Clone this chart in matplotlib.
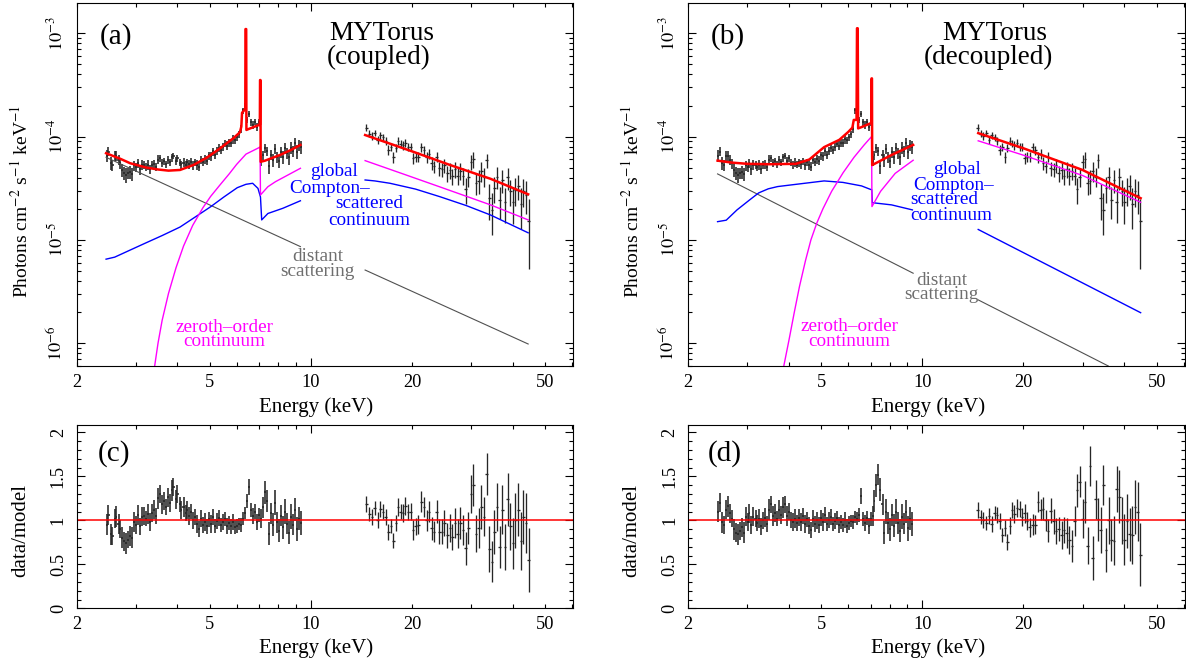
import numpy as np
import matplotlib.pyplot as plt
from matplotlib.ticker import FixedLocator, FuncFormatter, LogLocator, MultipleLocator, NullFormatter

plt.rcParams['font.family'] = ['Liberation Serif', 'DejaVu Serif']
plt.rcParams['mathtext.fontset'] = 'stix'

SCALE = 1e-5  # flux values below are in units of 1e-5 photons cm^-2 s^-1 keV^-1

# ============================================================================
#  Observed spectrum (same data in both fits)
# ============================================================================

energy_soft = [
    2.46, 2.49, 2.53, 2.56, 2.60, 2.63, 2.67, 2.70, 2.74, 2.78,
    2.81, 2.85, 2.89, 2.93, 2.97, 3.01, 3.05, 3.09, 3.13, 3.18,
    3.22, 3.26, 3.31, 3.35, 3.40, 3.45, 3.49, 3.54, 3.59, 3.64,
    3.69, 3.74, 3.79, 3.84, 3.89, 3.95, 4.00, 4.06, 4.11, 4.17,
    4.23, 4.28, 4.34, 4.40, 4.46, 4.52, 4.58, 4.65, 4.71, 4.78,
    4.84, 4.91, 4.98, 5.05, 5.12, 5.19, 5.26, 5.33, 5.40, 5.48,
    5.55, 5.63, 5.71, 5.78, 5.86, 5.94, 6.03, 6.11, 6.19, 6.28,
    6.36, 6.45, 6.54, 6.63, 6.72, 6.81, 6.91, 7.00, 7.10, 7.19,
    7.29, 7.39, 7.49, 7.60, 7.70, 7.81, 7.91, 8.02, 8.13, 8.25,
    8.36, 8.48, 8.59, 8.71, 8.83, 8.96, 9.08, 9.21, 9.33,
]
flux_soft = [
    6.51, 7.16, 5.54, 5.33, 6.53, 6.55, 5.95, 5.49, 4.76, 4.45,
    4.26, 4.41, 4.53, 4.36, 5.27, 5.04, 5.54, 4.81, 5.32, 5.31,
    5.12, 5.33, 4.84, 5.29, 5.44, 5.06, 5.99, 6.19, 5.58, 5.75,
    5.39, 5.90, 5.62, 6.28, 6.49, 5.85, 6.15, 5.61, 5.38, 5.61,
    5.36, 5.63, 5.38, 5.72, 5.30, 5.64, 5.33, 5.13, 5.95, 5.68,
    6.00, 5.86, 6.57, 6.43, 7.18, 6.67, 7.28, 7.83, 7.46, 7.94,
    8.57, 8.18, 8.73, 8.65, 9.41, 9.20, 9.87, 10.5, 11.9, 17.9,
    20.0, 14.4, 16.6, 13.7, 13.0, 13.9, 12.5, 13.7, 5.81, 6.61,
    7.72, 7.26, 5.14, 6.64, 5.94, 7.62, 6.32, 5.76, 7.04, 6.30,
    7.70, 6.86, 6.28, 7.75, 7.22, 8.74, 7.16, 8.26, 8.00,
]
# 1-sigma error in units of the ratio
err_soft = [
    0.12, 0.11, 0.12, 0.10, 0.11, 0.12, 0.11, 0.10, 0.12, 0.11,
    0.12, 0.10, 0.11, 0.12, 0.11, 0.10, 0.11, 0.10, 0.11, 0.10,
    0.09, 0.11, 0.10, 0.10, 0.11, 0.09, 0.12, 0.10, 0.11, 0.10,
    0.09, 0.11, 0.10, 0.12, 0.10, 0.11, 0.10, 0.09, 0.10, 0.11,
    0.09, 0.10, 0.10, 0.09, 0.10, 0.09, 0.10, 0.09, 0.10, 0.09,
    0.10, 0.09, 0.09, 0.10, 0.09, 0.08, 0.09, 0.09, 0.08, 0.09,
    0.08, 0.09, 0.08, 0.08, 0.09, 0.08, 0.08, 0.07, 0.08, 0.07,
    0.07, 0.08, 0.09, 0.08, 0.09, 0.08, 0.09, 0.08, 0.11, 0.12,
    0.13, 0.12, 0.13, 0.12, 0.13, 0.14, 0.12, 0.13, 0.12, 0.13,
    0.14, 0.12, 0.13, 0.14, 0.12, 0.13, 0.14, 0.13, 0.14,
]
ratio_c_soft = [
    0.95, 1.06, 0.84, 0.82, 1.02, 1.04, 0.96, 0.90, 0.80, 0.76,
    0.74, 0.78, 0.82, 0.80, 0.98, 0.95, 1.06, 0.93, 1.04, 1.05,
    1.02, 1.07, 0.98, 1.08, 1.12, 1.05, 1.25, 1.30, 1.18, 1.22,
    1.15, 1.26, 1.20, 1.34, 1.38, 1.24, 1.30, 1.18, 1.12, 1.15,
    1.08, 1.12, 1.05, 1.10, 1.00, 1.04, 0.96, 0.90, 1.02, 0.95,
    0.98, 0.93, 1.01, 0.96, 1.04, 0.94, 0.99, 1.03, 0.95, 0.98,
    1.02, 0.94, 0.97, 0.93, 0.98, 0.92, 0.94, 0.96, 0.95, 1.02,
    1.08, 1.22, 1.38, 1.12, 1.05, 1.10, 0.98, 1.06, 1.02, 1.15,
    1.32, 1.22, 0.85, 1.08, 0.95, 1.20, 0.98, 0.88, 1.05, 0.92,
    1.10, 0.96, 0.86, 1.04, 0.95, 1.12, 0.90, 1.02, 0.97,
]
ratio_d_soft = [
    1.10, 1.20, 0.98, 0.95, 1.12, 1.16, 1.08, 1.02, 0.90, 0.86,
    0.84, 0.88, 0.92, 0.86, 1.04, 0.98, 1.08, 0.95, 1.04, 1.02,
    0.97, 1.02, 0.93, 1.00, 1.03, 0.96, 1.12, 1.18, 1.05, 1.08,
    1.02, 1.12, 1.06, 1.15, 1.18, 1.05, 1.10, 1.00, 0.98, 1.02,
    0.97, 1.03, 0.98, 1.05, 0.96, 1.01, 0.94, 0.89, 1.02, 0.96,
    1.00, 0.95, 1.03, 0.98, 1.06, 0.96, 1.00, 1.04, 0.96, 0.99,
    1.03, 0.95, 0.98, 0.95, 1.00, 0.94, 0.97, 0.99, 0.98, 1.04,
    1.02, 1.06, 1.28, 1.02, 0.97, 1.03, 0.94, 1.02, 1.05, 1.22,
    1.40, 1.52, 1.35, 1.18, 0.86, 1.10, 0.97, 0.90, 1.06, 0.94,
    1.10, 0.97, 0.88, 1.04, 0.96, 1.10, 0.91, 1.02, 0.96,
]

energy_hard = [
    14.6, 14.9, 15.2, 15.5, 15.8, 16.1, 16.4, 16.7, 17.0, 17.3,
    17.6, 17.9, 18.2, 18.5, 18.8, 19.1, 19.5, 19.8, 20.2, 20.5,
    20.9, 21.3, 21.7, 22.1, 22.5, 22.9, 23.3, 23.7, 24.1, 24.6,
    25.0, 25.5, 26.0, 26.4, 26.9, 27.4, 27.9, 28.4, 28.9, 29.4,
    30.0, 30.5, 31.1, 31.6, 32.2, 32.8, 33.4, 34.0, 34.6, 35.2,
    35.9, 36.5, 37.2, 37.9, 38.6, 39.3, 40.0, 40.7, 41.5, 42.2,
    43.0, 43.8, 44.6,
]
flux_hard = [
    12.2, 10.7, 10.2, 10.9, 9.35, 10.3, 9.85, 9.11, 7.46, 7.90,
    6.34, 7.83, 9.10, 8.54, 8.23, 8.68, 7.96, 7.89, 6.23, 6.40,
    6.38, 7.96, 7.39, 6.30, 6.79, 5.50, 5.15, 6.38, 4.94, 4.82,
    5.28, 4.41, 4.72, 4.13, 4.84, 4.15, 4.64, 4.17, 3.11, 4.09,
    5.69, 6.02, 3.57, 3.75, 4.63, 4.10, 5.91, 2.53, 1.96, 3.16,
    4.08, 2.44, 3.81, 2.33, 4.04, 2.97, 2.32, 3.06, 3.35, 2.23,
    2.98, 2.73, 1.51,
]
err_hard = [
    0.09, 0.08, 0.09, 0.08, 0.09, 0.09, 0.08, 0.09, 0.09, 0.08,
    0.09, 0.09, 0.10, 0.09, 0.10, 0.10, 0.09, 0.10, 0.11, 0.10,
    0.11, 0.12, 0.11, 0.12, 0.12, 0.13, 0.12, 0.13, 0.14, 0.14,
    0.15, 0.14, 0.16, 0.15, 0.17, 0.16, 0.18, 0.17, 0.19, 0.18,
    0.22, 0.24, 0.21, 0.23, 0.25, 0.22, 0.24, 0.26, 0.23, 0.25,
    0.27, 0.24, 0.28, 0.26, 0.30, 0.27, 0.29, 0.31, 0.30, 0.33,
    0.31, 0.34, 0.36,
]
ratio_c_hard = [
    1.19, 1.07, 1.04, 1.14, 1.00, 1.13, 1.10, 1.04, 0.87, 0.94,
    0.77, 0.97, 1.15, 1.10, 1.08, 1.16, 1.09, 1.10, 0.89, 0.93,
    0.95, 1.21, 1.15, 1.00, 1.10, 0.91, 0.87, 1.10, 0.87, 0.87,
    0.97, 0.83, 0.91, 0.81, 0.97, 0.85, 0.97, 0.89, 0.68, 0.91,
    1.30, 1.40, 0.85, 0.91, 1.15, 1.04, 1.53, 0.67, 0.53, 0.87,
    1.15, 0.70, 1.12, 0.70, 1.24, 0.93, 0.74, 1.00, 1.12, 0.76,
    1.04, 0.97, 0.55,
]
ratio_d_hard = [
    1.12, 1.04, 1.00, 0.97, 1.05, 0.96, 1.08, 1.06, 0.99, 0.83,
    0.91, 0.75, 0.94, 1.12, 1.07, 1.14, 1.13, 1.04, 1.08, 0.99,
    0.92, 0.95, 0.95, 1.21, 1.12, 1.13, 1.00, 0.88, 1.11, 0.99,
    0.88, 0.90, 0.83, 0.89, 0.86, 0.78, 0.71, 0.99, 1.34, 1.44,
    1.02, 1.21, 0.71, 1.62, 0.57, 1.24, 1.01, 0.89, 1.40, 0.66,
    1.00, 0.78, 0.77, 1.36, 1.27, 1.00, 0.78, 0.99, 0.84, 0.83,
    1.15, 1.10, 0.61,
]

# ============================================================================
#  Model components, panel (a): MYTorus coupled
# ============================================================================

a_total_soft_e = [2.45, 2.70, 2.89, 3.24, 3.50, 3.76, 4.07, 4.46, 4.89, 5.36, 5.87, 6.14,
                  6.20, 6.23, 6.37, 6.38, 6.41, 6.42, 6.50, 6.97, 7.04, 7.05, 7.07, 7.08,
                  7.30, 7.60, 8.09, 8.70, 9.30]
a_total_soft_f = [6.90, 6.10, 5.52, 5.00, 4.80, 4.68, 4.75, 5.30, 6.25, 7.70, 9.64, 11.0,
                  12.5, 17.0, 18.5, 110., 110., 11.6, 11.8, 12.9, 13.0, 35.3, 35.3, 5.70,
                  5.85, 6.15, 6.64, 7.40, 8.30]
a_total_hard_e = [14.5, 20.0, 26.0, 34.3, 44.4]
a_total_hard_f = [10.35, 7.20, 5.30, 3.90, 2.76]

a_zeroth_soft_e = [3.38, 3.42, 3.50, 3.60, 3.76, 3.96, 4.17, 4.44, 4.76, 5.02, 5.35, 5.71,
                   6.00, 6.40, 6.97, 7.05, 7.07, 7.44, 7.84, 9.30]
a_zeroth_soft_f = [0.045, 0.060, 0.100, 0.166, 0.302, 0.537, 0.871, 1.38, 2.04, 2.63, 3.39, 4.37,
                   5.37, 6.76, 7.76, 7.94, 2.72, 3.27, 3.66, 4.93]
a_zeroth_hard_e = [14.5, 19.0, 24.2, 34.3, 44.4]
a_zeroth_hard_f = [5.85, 4.30, 3.26, 2.18, 1.56]

a_scat_soft_e = [2.45, 2.60, 2.90, 3.21, 3.60, 4.07, 4.50, 5.02, 5.50, 6.03, 6.40, 6.70,
                 6.95, 7.07, 7.13, 7.44, 8.24, 9.30]
a_scat_soft_f = [0.65, 0.68, 0.80, 0.93, 1.10, 1.33, 1.65, 2.09, 2.60, 3.20, 3.45, 3.53,
                 3.15, 2.60, 1.56, 1.80, 2.02, 2.39]
a_scat_hard_e = [14.5, 15.5, 17.2, 20.5, 24.2, 29.0, 34.3, 44.4]
a_scat_hard_f = [3.80, 3.72, 3.53, 3.10, 2.62, 2.15, 1.74, 1.17]

a_distant_soft_e = [2.45, 9.30]
a_distant_soft_f = [6.30, 0.86]
a_distant_hard_e = [14.5, 44.4]
a_distant_hard_f = [0.51, 0.098]

# ============================================================================
#  Model components, panel (b): MYTorus decoupled
# ============================================================================

b_total_soft_e = [2.45, 2.70, 3.00, 3.50, 4.20, 4.60, 5.09, 5.65, 6.01, 6.18, 6.24, 6.36,
                  6.38, 6.41, 6.43, 6.60, 7.02, 7.04, 7.05, 7.07, 7.08, 8.09, 9.38]
b_total_soft_f = [5.85, 5.60, 5.45, 5.40, 5.45, 6.00, 7.90, 9.30, 11.1, 12.2, 14.5, 14.5,
                  112., 112., 12.0, 12.4, 13.5, 13.5, 36.6, 36.6, 5.30, 6.64, 8.30]
b_total_hard_e = [14.66, 20.0, 30.0, 44.7]
b_total_hard_f = [10.8, 7.70, 4.75, 2.53]

b_zeroth_soft_e = [3.80, 3.86, 4.00, 4.15, 4.30, 4.48, 4.65, 4.84, 5.05, 5.36, 5.80, 6.25,
                   6.70, 7.05, 7.07, 7.50, 8.29, 9.38]
b_zeroth_soft_f = [0.040, 0.060, 0.107, 0.200, 0.355, 0.630, 1.00, 1.45, 2.00, 2.95, 4.47, 6.30,
                   8.30, 10.0, 2.10, 2.95, 4.40, 5.90]
b_zeroth_hard_e = [14.66, 20.0, 30.0, 44.7]
b_zeroth_hard_f = [9.10, 6.60, 4.20, 2.31]

b_scat_soft_e = [2.45, 2.60, 2.80, 3.05, 3.25, 3.47, 3.70, 4.05, 5.09, 5.79, 6.58, 6.98,
                 7.06, 7.09, 8.09, 9.33]
b_scat_soft_f = [1.50, 1.55, 1.95, 2.43, 2.85, 3.12, 3.28, 3.40, 3.72, 3.60, 3.33, 3.09,
                 3.05, 2.29, 2.18, 1.95]
b_scat_hard_e = [14.66, 44.7]
b_scat_hard_f = [1.26, 0.197]

b_distant_soft_e = [2.45, 9.38]
b_distant_soft_f = [4.35, 0.475]
b_distant_hard_e = [14.66, 35.8]
b_distant_hard_f = [0.262, 0.060]

# ============================================================================
#  Layout helpers
# ============================================================================

W, H = 1186, 664
fig = plt.figure(figsize=(W / 100, H / 100), dpi=100)


def px_axes(x0, x1, ytop, ybot):
    return fig.add_axes([x0 / W, 1 - ybot / H, (x1 - x0) / W, (ybot - ytop) / H])


ax_a = px_axes(76.5, 573, 2.7, 366)
ax_b = px_axes(688, 1184.5, 2.7, 366)
ax_c = px_axes(76.5, 573, 425, 608.3)
ax_d = px_axes(688, 1184.5, 425, 608.3)

TICK_FS = 13.2
LABEL_FS = 15
TAG_FS = 21
TITLE_FS = 19.5
COMP_FS = 13.8


def energy_axis(ax):
    ax.set_xscale('log')
    ax.set_xlim(2, 60.4)
    ax.xaxis.set_major_locator(FixedLocator([10]))
    ax.xaxis.set_minor_locator(FixedLocator([2, 3, 4, 5, 6, 7, 8, 9, 20, 30, 40, 50, 60]))
    ax.xaxis.set_major_formatter(FuncFormatter(lambda v, p: '10'))
    ax.xaxis.set_minor_formatter(
        FuncFormatter(lambda v, p: '%d' % round(v) if round(v) in (2, 5, 20, 50) else ''))
    ax.tick_params(axis='both', which='both', direction='in', top=True, right=True,
                   labelsize=TICK_FS, width=0.8)
    ax.tick_params(which='major', length=5.5)
    ax.tick_params(which='minor', length=2.7)
    ax.tick_params(axis='x', which='both', pad=5.5)
    ax.tick_params(axis='y', which='both', pad=7)
    for s in ax.spines.values():
        s.set_linewidth(0.8)


def bin_halfwidths(e):
    e = np.asarray(e)
    edges = np.sqrt(e[1:] * e[:-1])
    lo = np.concatenate([[e[0] ** 2 / edges[0]], edges])
    hi = np.concatenate([edges, [e[-1] ** 2 / edges[-1]]])
    return np.vstack([e - lo, hi - e])


def data_kw(lw):
    return dict(fmt='none', ecolor='#262626', elinewidth=lw, capsize=0)


def rotate_yticklabels(ax):
    for lab in ax.get_yticklabels():
        lab.set_rotation(90)
        lab.set_va('center')


def spectrum_panel(ax, comps, tag, title1, title2, labels):
    for e, f, r, err, lw in [(energy_soft, flux_soft, ratio_c_soft, err_soft, 1.15),
                             (energy_hard, flux_hard, ratio_c_hard, err_hard, 0.95)]:
        f = np.asarray(f) * SCALE
        yerr = np.asarray(err) * f / np.asarray(r)
        ax.errorbar(e, f, yerr=yerr, xerr=bin_halfwidths(e), **data_kw(lw))
    for e, f, color, lw in comps:
        ax.plot(e, np.asarray(f) * SCALE, color=color, lw=lw)
    energy_axis(ax)
    ax.set_yscale('log')
    ax.set_ylim(6.0e-7, 1.98e-3)
    ax.yaxis.set_major_locator(LogLocator(base=10, numticks=10))
    ax.yaxis.set_minor_locator(LogLocator(base=10, subs=np.arange(2, 10), numticks=20))
    ax.yaxis.set_major_formatter(FuncFormatter(lambda v, p: r'$10^{%d}$' % round(np.log10(v))))
    ax.yaxis.set_minor_formatter(NullFormatter())
    rotate_yticklabels(ax)
    ax.text(tag[0], tag[1], tag[2], transform=ax.transAxes, fontsize=TAG_FS,
            ha='left', va='center')
    ax.text(title1[0], title1[1], title1[2], transform=ax.transAxes, fontsize=TITLE_FS,
            ha='center', va='center')
    ax.text(title2[0], title2[1], title2[2], transform=ax.transAxes, fontsize=TITLE_FS,
            ha='center', va='center')
    for x, y, s, c, ha in labels:
        ax.text(x, y, s, transform=ax.transAxes, fontsize=COMP_FS, color=c, ha=ha,
                va='center', linespacing=0.82)


def ratio_panel(ax, ratios, tag):
    for e, r, err, lw in zip([energy_soft, energy_hard], ratios, [err_soft, err_hard],
                             [1.15, 0.95]):
        ax.errorbar(e, r, yerr=err, xerr=bin_halfwidths(e), **data_kw(lw))
    ax.axhline(1.0, color='red', lw=1.1)
    energy_axis(ax)
    ax.set_ylim(0, 2.083)
    ax.yaxis.set_major_locator(MultipleLocator(0.5))
    ax.yaxis.set_minor_locator(MultipleLocator(0.1))
    ax.yaxis.set_major_formatter(FuncFormatter(lambda v, p: '%g' % v))
    rotate_yticklabels(ax)
    ax.text(tag[0], tag[1], tag[2], transform=ax.transAxes, fontsize=TAG_FS,
            ha='left', va='center')


RED, MAG, BLUE, GREY = '#ff0000', '#ff00ff', '#0000ff', '#505050'
TXT_GREY = '#6e6e6e'

comps_a = [
    (a_distant_soft_e, a_distant_soft_f, GREY, 0.8),
    (a_distant_hard_e, a_distant_hard_f, GREY, 0.8),
    (a_scat_soft_e, a_scat_soft_f, BLUE, 1.0),
    (a_scat_hard_e, a_scat_hard_f, BLUE, 1.0),
    (a_zeroth_soft_e, a_zeroth_soft_f, MAG, 1.0),
    (a_zeroth_hard_e, a_zeroth_hard_f, MAG, 1.0),
    (a_total_soft_e, a_total_soft_f, RED, 1.8),
    (a_total_hard_e, a_total_hard_f, RED, 1.8),
]
comps_b = [
    (b_distant_soft_e, b_distant_soft_f, GREY, 0.8),
    (b_distant_hard_e, b_distant_hard_f, GREY, 0.8),
    (b_scat_soft_e, b_scat_soft_f, BLUE, 1.0),
    (b_scat_hard_e, b_scat_hard_f, BLUE, 1.0),
    (b_zeroth_soft_e, b_zeroth_soft_f, MAG, 1.0),
    (b_zeroth_hard_e, b_zeroth_hard_f, MAG, 1.0),
    (b_total_soft_e, b_total_soft_f, RED, 1.8),
    (b_total_hard_e, b_total_hard_f, RED, 1.8),
]

labels_a = [
    (0.470, 0.535, 'global', BLUE, 'left'),
    (0.429, 0.489, 'Compton\u2013', BLUE, 'left'),
    (0.522, 0.446, 'scattered', BLUE, 'left'),
    (0.507, 0.400, 'continuum', BLUE, 'left'),
    (0.486, 0.281, 'distant\nscattering', TXT_GREY, 'center'),
    (0.298, 0.087, 'zeroth\u2013order\ncontinuum', MAG, 'center'),
]
labels_b = [
    (0.494, 0.540, 'global', BLUE, 'left'),
    (0.453, 0.498, 'Compton\u2013', BLUE, 'left'),
    (0.447, 0.457, 'scattered', BLUE, 'left'),
    (0.447, 0.413, 'continuum', BLUE, 'left'),
    (0.511, 0.216, 'distant\nscattering', TXT_GREY, 'center'),
    (0.325, 0.088, 'zeroth\u2013order\ncontinuum', MAG, 'center'),
]

spectrum_panel(ax_a, comps_a, (0.046, 0.906, '(a)'), (0.615, 0.916, 'MYTorus'),
               (0.609, 0.850, '(coupled)'), labels_a)
spectrum_panel(ax_b, comps_b, (0.046, 0.906, '(b)'), (0.617, 0.916, 'MYTorus'),
               (0.606, 0.850, '(decoupled)'), labels_b)
ratio_panel(ax_c, [ratio_c_soft, ratio_c_hard], (0.043, 0.846, '(c)'))
ratio_panel(ax_d, [ratio_d_soft, ratio_d_hard], (0.040, 0.846, '(d)'))

# axis titles
ylab = 'Photons cm$^{-2}$ s$^{-1}$ keV$^{-1}$'
for x in (21, 632):
    fig.text(x / W, 1 - 201.7 / H, ylab, rotation=90, ha='center', va='center', fontsize=14)
    fig.text(x / W, 1 - 530.8 / H, 'data/model', rotation=90, ha='center', va='center',
             fontsize=LABEL_FS)
for x in (316.5, 928.5):
    fig.text(x / W, 1 - 406.7 / H, 'Energy (keV)', ha='center', va='center', fontsize=LABEL_FS)
    fig.text(x / W, 1 - 648.3 / H, 'Energy (keV)', ha='center', va='center', fontsize=LABEL_FS)

fig.savefig('out.png', dpi=100)
